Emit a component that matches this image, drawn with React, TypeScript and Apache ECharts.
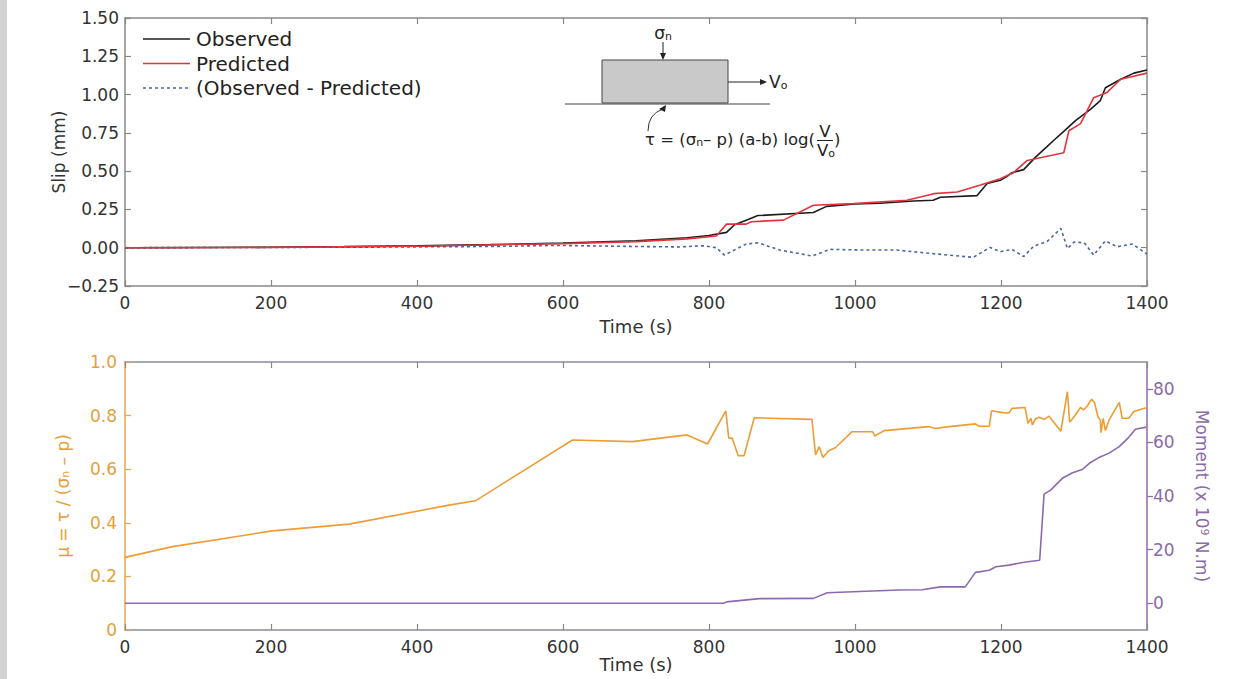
import React, { useEffect, useRef } from 'react';
import * as echarts from 'echarts';

// ---------- Top panel: slip ----------
const obsTime = [0, 100, 200, 300, 400, 500, 600, 700, 770, 800, 824, 835, 851, 867, 943, 961, 1000, 1034, 1080, 1107, 1117, 1167, 1181, 1199, 1208, 1215, 1231, 1247, 1263, 1272, 1286, 1302, 1323, 1336, 1343, 1364, 1382, 1400];
const obsSlip = [0, 0.001, 0.003, 0.007, 0.012, 0.02, 0.03, 0.045, 0.065, 0.08, 0.1, 0.15, 0.18, 0.21, 0.23, 0.27, 0.285, 0.29, 0.305, 0.31, 0.33, 0.34, 0.42, 0.44, 0.465, 0.49, 0.51, 0.59, 0.66, 0.7, 0.76, 0.83, 0.905, 0.96, 1.045, 1.1, 1.14, 1.16];

const predTime = [0, 200, 400, 600, 700, 770, 810, 824, 851, 858, 902, 943, 998, 1071, 1108, 1140, 1172, 1199, 1217, 1236, 1286, 1293, 1309, 1327, 1345, 1364, 1400];
const predSlip = [0, 0.002, 0.01, 0.027, 0.04, 0.058, 0.076, 0.154, 0.154, 0.17, 0.18, 0.277, 0.288, 0.31, 0.353, 0.364, 0.41, 0.45, 0.49, 0.57, 0.62, 0.764, 0.81, 0.98, 1.013, 1.1, 1.14];

const diffTime = [0, 300, 500, 590, 700, 760, 792, 810, 821, 851, 867, 897, 941, 966, 1012, 1057, 1103, 1162, 1185, 1199, 1215, 1231, 1245, 1263, 1282, 1291, 1300, 1314, 1327, 1343, 1359, 1380, 1400];
const diffSlip = [0, 0.003, 0.008, 0.015, 0.008, 0.005, 0.013, 0.0, -0.048, 0.024, 0.032, -0.015, -0.054, -0.011, -0.015, -0.015, -0.037, -0.063, 0.002, -0.026, -0.011, -0.058, 0.011, 0.04, 0.126, -0.006, 0.037, 0.032, -0.048, 0.045, 0.006, 0.024, -0.041];

// ---------- Bottom panel: friction & moment ----------
const muTime = [0, 65, 202, 307, 444, 480, 613, 695, 770, 798, 823, 827, 832, 840, 848, 862, 941, 946, 951, 956, 964, 973, 996, 1024, 1027, 1040, 1101, 1110, 1129, 1165, 1170, 1184, 1187, 1202, 1211, 1215, 1233, 1237, 1241, 1243, 1247, 1252, 1259, 1266, 1270, 1282, 1291, 1294, 1300, 1309, 1313, 1318, 1324, 1328, 1333, 1336, 1337, 1340, 1343, 1348, 1362, 1366, 1375, 1382, 1400];
const muValue = [0.271, 0.311, 0.37, 0.395, 0.466, 0.482, 0.709, 0.703, 0.728, 0.694, 0.818, 0.717, 0.715, 0.65, 0.65, 0.792, 0.786, 0.653, 0.684, 0.644, 0.669, 0.68, 0.74, 0.74, 0.724, 0.744, 0.759, 0.752, 0.759, 0.769, 0.76, 0.76, 0.818, 0.811, 0.81, 0.827, 0.83, 0.771, 0.79, 0.765, 0.787, 0.794, 0.786, 0.798, 0.783, 0.742, 0.889, 0.776, 0.795, 0.831, 0.821, 0.835, 0.861, 0.849, 0.795, 0.783, 0.736, 0.79, 0.744, 0.783, 0.849, 0.79, 0.79, 0.815, 0.83];

const momentTime = [0, 820, 824, 869, 943, 962, 1060, 1092, 1117, 1151, 1165, 1184, 1193, 1211, 1234, 1253, 1259, 1268, 1284, 1298, 1312, 1321, 1335, 1348, 1362, 1375, 1384, 1399];
const momentValue = [0, 0, 0.5, 1.7, 1.8, 3.9, 4.9, 5.0, 6.1, 6.1, 11.5, 12.3, 13.6, 14.2, 15.4, 16, 40.7, 42.2, 46.6, 48.7, 50, 52.2, 54.5, 56, 58.4, 61.9, 64.9, 65.7];

const momentTicks = [0, 20, 40, 60, 80];
const legendNames = ['Observed', 'Predicted', '(Observed - Predicted)'];

const FONT = '"DejaVu Sans", "Liberation Sans", Arial, sans-serif';
const AX = '#888888';
const TXT = '#333333';
const OBS = '#1c1c1c';
const PRED = '#e0353f';
const DIFF = '#4c66a6';
const ORANGE = '#ee9c34';
const ORANGE_TXT = '#e3a13c';
const PURPLE = '#8d6aae';
const PURPLE_TXT = '#8a6aa8';
const BOTTOM_FRAME = '#8c8a9c';

const pairs = (xs: number[], ys: number[]) => xs.map((x, i) => [x, ys[i]]);

export default function App() {
  const ref = useRef<HTMLDivElement>(null);

  useEffect(() => {
    const chart = echarts.init(ref.current!, null, { renderer: 'svg' });

    const tick = (color: string, inside = true) => ({
      show: true,
      inside,
      length: 6,
      lineStyle: { color, width: 1.2 },
    });
    const line = (color: string) => ({ show: true, onZero: false, lineStyle: { color, width: 1.5 } });

    const xBase = (gridIndex: number, frame: string) => ({
      type: 'value',
      gridIndex,
      min: 0,
      max: 1400,
      interval: 200,
      splitLine: { show: false },
      axisLine: line(frame),
      axisTick: tick(AX),
    });

    const subRich = {
      a: { fontSize: 17, fontFamily: FONT, color: ORANGE_TXT },
      s: { fontSize: 11, fontFamily: FONT, color: ORANGE_TXT, lineHeight: 6, verticalAlign: 'bottom' },
    };
    const supRich = {
      a: { fontSize: 17, fontFamily: FONT, color: PURPLE_TXT },
      s: { fontSize: 11, fontFamily: FONT, color: PURPLE_TXT, lineHeight: 6, verticalAlign: 'top' },
    };
    const formulaRich = {
      a: { fontSize: 16.5, fontFamily: FONT, fill: '#222' },
      s: { fontSize: 11, fontFamily: FONT, fill: '#222', lineHeight: 6, verticalAlign: 'bottom' },
    };

    const legendColors = [OBS, PRED, DIFF];
    const legendDash: any[] = [null, null, [3, 3]];
    const legendGraphics: any[] = [];
    legendNames.forEach((name, i) => {
      const y = 39 + i * 24.5;
      legendGraphics.push({
        type: 'line',
        shape: { x1: 143, y1: y, x2: 190, y2: y },
        style: { stroke: legendColors[i], lineWidth: 1.6, lineDash: legendDash[i] },
      });
      legendGraphics.push({
        type: 'text',
        x: 196,
        y,
        style: { text: name, align: 'left', verticalAlign: 'middle', fontSize: 20, fontFamily: FONT, fill: '#222' },
      });
    });

    const option: any = {
      animation: false,
      backgroundColor: '#ffffff',
      textStyle: { fontFamily: FONT },
      grid: [
        { left: 125, right: 93, top: 18, height: 268 },
        { left: 125, right: 93, top: 362, height: 268 },
      ],
      xAxis: [
        {
          ...xBase(0, AX),
          position: 'bottom',
          axisLabel: { color: TXT, fontSize: 17, fontFamily: FONT, margin: 8, formatter: (v: number) => String(v) },
          name: 'Time (s)',
          nameLocation: 'middle',
          nameGap: 31,
          nameMoveOverlap: false,
          nameTextStyle: { fontSize: 18, color: TXT, fontFamily: FONT },
        },
        { ...xBase(0, AX), position: 'top', axisLabel: { show: false } },
        {
          ...xBase(1, BOTTOM_FRAME),
          position: 'bottom',
          axisLabel: { color: TXT, fontSize: 17, fontFamily: FONT, margin: 8, formatter: (v: number) => String(v) },
          name: 'Time (s)',
          nameLocation: 'middle',
          nameGap: 25,
          nameMoveOverlap: false,
          nameTextStyle: { fontSize: 18, color: TXT, fontFamily: FONT },
        },
        { ...xBase(1, BOTTOM_FRAME), position: 'top', axisLabel: { show: false } },
      ],
      yAxis: [
        {
          type: 'value',
          gridIndex: 0,
          position: 'left',
          min: -0.25,
          max: 1.5,
          interval: 0.25,
          splitLine: { show: false },
          axisLine: line(AX),
          axisTick: tick(AX),
          axisLabel: {
            color: TXT,
            fontSize: 17,
            fontFamily: FONT,
            margin: 6,
            formatter: (v: number) => (v < 0 ? '\u2212' + Math.abs(v).toFixed(2) : v.toFixed(2)),
          },
          name: 'Slip (mm)',
          nameLocation: 'middle',
          nameRotate: 90,
          nameGap: 58,
          nameMoveOverlap: false,
          nameTextStyle: { fontSize: 17, color: TXT, fontFamily: FONT },
        },
        {
          type: 'value',
          gridIndex: 0,
          position: 'right',
          min: -0.25,
          max: 1.5,
          interval: 0.25,
          splitLine: { show: false },
          axisLine: line(AX),
          axisTick: tick(AX),
          axisLabel: { show: false },
        },
        {
          type: 'value',
          gridIndex: 1,
          position: 'left',
          min: 0,
          max: 1,
          interval: 0.2,
          splitLine: { show: false },
          axisLine: line('#e9a64a'),
          axisTick: tick('#e9a64a'),
          axisLabel: {
            color: ORANGE_TXT,
            fontSize: 17,
            fontFamily: FONT,
            margin: 8,
            formatter: (v: number) => (v === 0 ? '0' : v.toFixed(1)),
          },
          name: '{a|\u03bc = \u03c4 / (\u03c3}{s|n}{a| \u2013 p)}',
          nameLocation: 'middle',
          nameRotate: 90,
          nameGap: 54,
          nameMoveOverlap: false,
          nameTextStyle: { rich: subRich },
        },
        {
          type: 'value',
          gridIndex: 1,
          position: 'right',
          min: -10,
          max: 90,
          splitLine: { show: false },
          axisLine: line(PURPLE),
          axisTick: { ...tick(PURPLE, false), customValues: momentTicks },
          axisLabel: {
            color: PURPLE_TXT,
            fontSize: 17,
            fontFamily: FONT,
            margin: 6,
            customValues: momentTicks,
          },
          name: '{a|Moment (x 10}{s|9}{a| N.m)}',
          nameLocation: 'middle',
          nameRotate: -90,
          nameGap: 46,
          nameMoveOverlap: false,
          nameTextStyle: { rich: supRich },
        },
      ],
      series: [
        {
          name: legendNames[0],
          type: 'line',
          xAxisIndex: 0,
          yAxisIndex: 0,
          data: pairs(obsTime, obsSlip),
          symbol: 'none',
          showSymbol: false,
          lineStyle: { color: OBS, width: 1.6 },
          z: 3,
        },
        {
          name: legendNames[1],
          type: 'line',
          xAxisIndex: 0,
          yAxisIndex: 0,
          data: pairs(predTime, predSlip),
          symbol: 'none',
          showSymbol: false,
          lineStyle: { color: PRED, width: 1.6 },
          z: 4,
        },
        {
          name: legendNames[2],
          type: 'line',
          xAxisIndex: 0,
          yAxisIndex: 0,
          data: pairs(diffTime, diffSlip),
          symbol: 'none',
          showSymbol: false,
          lineStyle: { color: DIFF, width: 1.6, type: [3, 3] },
          z: 2,
        },
        {
          name: 'mu',
          type: 'line',
          xAxisIndex: 2,
          yAxisIndex: 2,
          data: pairs(muTime, muValue),
          symbol: 'none',
          showSymbol: false,
          lineStyle: { color: ORANGE, width: 1.6 },
        },
        {
          name: 'moment',
          type: 'line',
          xAxisIndex: 2,
          yAxisIndex: 3,
          data: pairs(momentTime, momentValue),
          symbol: 'none',
          showSymbol: false,
          lineStyle: { color: PURPLE, width: 1.6 },
        },
      ],
      graphic: [
        { type: 'rect', shape: { x: 0, y: 0, width: 7, height: 679 }, style: { fill: '#d3d3d3' }, z: 0 },
        ...legendGraphics,
        // inset block diagram
        { type: 'line', shape: { x1: 565, y1: 104, x2: 770, y2: 104 }, style: { stroke: '#444', lineWidth: 1 } },
        { type: 'rect', shape: { x: 602, y: 60, width: 126, height: 43 }, style: { fill: '#c9c9c9', stroke: '#444', lineWidth: 1 } },
        {
          type: 'text',
          x: 663,
          y: 33,
          style: {
            text: '{a|\u03c3}{s|n}',
            align: 'center',
            verticalAlign: 'middle',
            rich: {
              a: { fontSize: 17, fontFamily: FONT, fill: '#222' },
              s: { fontSize: 11, fontFamily: FONT, fill: '#222', lineHeight: 6, verticalAlign: 'bottom' },
            },
          },
        },
        { type: 'line', shape: { x1: 663, y1: 42, x2: 663, y2: 55 }, style: { stroke: '#222', lineWidth: 1 } },
        { type: 'polygon', shape: { points: [[663, 60], [660, 53], [666, 53]] }, style: { fill: '#222' } },
        { type: 'line', shape: { x1: 728, y1: 82, x2: 761, y2: 82 }, style: { stroke: '#222', lineWidth: 1 } },
        { type: 'polygon', shape: { points: [[767, 82], [760, 79], [760, 85]] }, style: { fill: '#222' } },
        {
          type: 'text',
          x: 769,
          y: 82,
          style: {
            text: '{a|V}{s|o}',
            align: 'left',
            verticalAlign: 'middle',
            rich: {
              a: { fontSize: 17, fontFamily: FONT, fill: '#222' },
              s: { fontSize: 11, fontFamily: FONT, fill: '#222', lineHeight: 6, verticalAlign: 'bottom' },
            },
          },
        },
        {
          type: 'bezierCurve',
          shape: { x1: 648, y1: 131, x2: 663, y2: 109, cpx1: 648, cpy1: 114 },
          style: { stroke: '#333', lineWidth: 1, fill: null },
        },
        { type: 'polygon', shape: { points: [[666, 105], [659, 109], [665, 112]] }, style: { fill: '#222' } },
        {
          type: 'text',
          x: 815,
          y: 139,
          style: { text: '{a|\u03c4 = (\u03c3}{s|n}{a|\u2013 p) (a-b) log(}', align: 'right', verticalAlign: 'middle', rich: formulaRich },
        },
        { type: 'text', x: 825, y: 131, style: { text: 'V', align: 'center', verticalAlign: 'middle', fontSize: 16.5, fontFamily: FONT, fill: '#222' } },
        { type: 'line', shape: { x1: 817, y1: 140.5, x2: 833, y2: 140.5 }, style: { stroke: '#222', lineWidth: 1 } },
        {
          type: 'text',
          x: 826,
          y: 150,
          style: { text: '{a|V}{s|o}', align: 'center', verticalAlign: 'middle', rich: formulaRich },
        },
        { type: 'text', x: 834, y: 139, style: { text: ')', align: 'left', verticalAlign: 'middle', fontSize: 16.5, fontFamily: FONT, fill: '#222' } },
      ],
    };

    chart.setOption(option);
    return () => chart.dispose();
  }, []);

  return (
    <div
      ref={ref}
      style={{ position: 'fixed', left: 0, top: 0, width: 1240, height: 679, background: '#ffffff' }}
    />
  );
}
